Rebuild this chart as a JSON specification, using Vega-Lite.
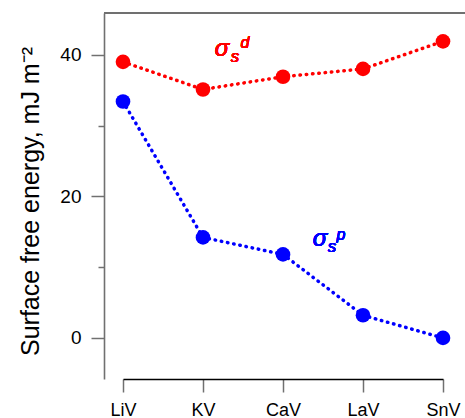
{
  "$schema": "https://vega.github.io/schema/vega-lite/v6.json",
  "width": 361,
  "height": 366,
  "autosize": {"type": "none"},
  "padding": {"left": 104, "top": 13, "right": 0, "bottom": 39},
  "config": {
    "view": {"stroke": null},
    "font": "Liberation Sans",
    "axis": {"labelColor": "#000000", "titleColor": "#000000", "labelFont": "Liberation Sans", "titleFont": "Liberation Sans", "grid": false}
  },
  "data": {
    "values": [
      {"compound": "LiV", "component": "d", "energy": 39.0},
      {"compound": "KV", "component": "d", "energy": 35.1},
      {"compound": "CaV", "component": "d", "energy": 36.9},
      {"compound": "LaV", "component": "d", "energy": 38.0},
      {"compound": "SnV", "component": "d", "energy": 41.9},
      {"compound": "LiV", "component": "p", "energy": 33.4},
      {"compound": "KV", "component": "p", "energy": 14.2},
      {"compound": "CaV", "component": "p", "energy": 11.8},
      {"compound": "LaV", "component": "p", "energy": 3.2},
      {"compound": "SnV", "component": "p", "energy": 0.0}
    ]
  },
  "layer": [
    {
      "mark": {"type": "rule", "color": "#707070", "strokeWidth": 1.6},
      "encoding": {"y": {"datum": 45.9, "scale": {"domain": [-5.8, 45.9], "nice": false, "zero": false}}}
    },
    {
      "mark": {"type": "line", "strokeDash": [0.5, 5.8], "strokeCap": "round", "strokeWidth": 3.5},
      "encoding": {
        "x": {
          "field": "compound", "type": "nominal",
          "scale": {"type": "point", "domain": ["LiV", "KV", "CaV", "LaV", "SnV"], "range": [19, 339], "padding": 0},
          "axis": {"title": null, "labelAngle": 0, "labelFontSize": 18, "labelPadding": 9, "tickSize": 13, "tickWidth": 1.5, "tickColor": "#707070", "domainColor": "#000000", "domainWidth": 1.5}
        },
        "y": {
          "field": "energy", "type": "quantitative",
          "scale": {"domain": [-5.8, 45.9], "nice": false, "zero": false},
          "axis": {
            "title": "Surface free energy, mJ m⁻²",
            "values": [0, 10, 20, 30, 40],
            "labelExpr": "datum.value % 20 === 0 ? datum.label : ''",
            "labelFontSize": 19,
            "labelPadding": 10,
            "tickSize": {"condition": {"test": "datum.value % 20 === 0", "value": 13}, "value": 6},
            "tickWidth": 1.5,
            "tickColor": "#707070",
            "domainColor": "#707070",
            "domainWidth": 1.6,
            "titleFontSize": 25,
            "titleFontWeight": "normal",
            "titleX": -74,
            "titleY": 188,
            "titleAlign": "center",
            "titleBaseline": "middle"
          }
        },
        "color": {"field": "component", "type": "nominal", "scale": {"domain": ["d", "p"], "range": ["#ff0000", "#0000ff"]}, "legend": null},
        "order": {"value": null}
      }
    },
    {
      "mark": {"type": "circle", "size": 215, "opacity": 1},
      "encoding": {
        "x": {"field": "compound", "type": "nominal"},
        "y": {"field": "energy", "type": "quantitative"},
        "color": {"field": "component", "type": "nominal", "legend": null}
      }
    },
    {
      "mark": {"type": "text", "text": "σ", "fontSize": 24, "fontStyle": "italic", "fontWeight": "normal", "color": "#ff0000", "baseline": "middle", "align": "center", "dx": 19},
      "encoding": {"x": {"datum": "KV"}, "y": {"datum": 40.8}}
    },
    {
      "mark": {"type": "text", "text": "s", "fontSize": 17, "fontStyle": "italic", "fontWeight": "normal", "color": "#ff0000", "baseline": "middle", "align": "center", "dx": 32, "dy": 8},
      "encoding": {"x": {"datum": "KV"}, "y": {"datum": 40.8}}
    },
    {
      "mark": {"type": "text", "text": "d", "fontSize": 16, "fontStyle": "italic", "fontWeight": "normal", "color": "#ff0000", "baseline": "middle", "align": "center", "dx": 42, "dy": -6},
      "encoding": {"x": {"datum": "KV"}, "y": {"datum": 40.8}}
    },
    {
      "mark": {"type": "text", "text": "σ", "fontSize": 24, "fontStyle": "italic", "fontWeight": "normal", "color": "#0000ff", "baseline": "middle", "align": "center", "dx": 37},
      "encoding": {"x": {"datum": "CaV"}, "y": {"datum": 14.0}}
    },
    {
      "mark": {"type": "text", "text": "s", "fontSize": 17, "fontStyle": "italic", "fontWeight": "normal", "color": "#0000ff", "baseline": "middle", "align": "center", "dx": 49, "dy": 8},
      "encoding": {"x": {"datum": "CaV"}, "y": {"datum": 14.0}}
    },
    {
      "mark": {"type": "text", "text": "p", "fontSize": 16, "fontStyle": "italic", "fontWeight": "normal", "color": "#0000ff", "baseline": "middle", "align": "center", "dx": 58, "dy": -4},
      "encoding": {"x": {"datum": "CaV"}, "y": {"datum": 14.0}}
    }
  ]
}
